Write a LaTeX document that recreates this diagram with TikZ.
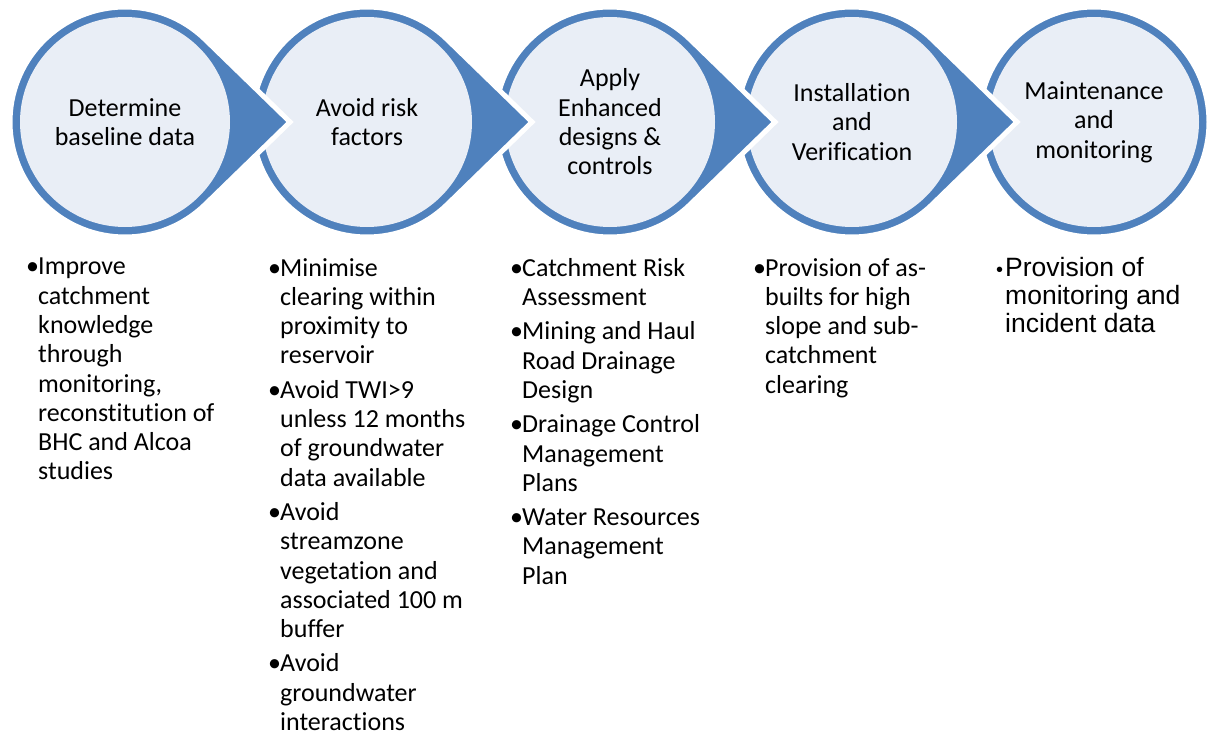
\documentclass[tikz,border=0pt]{standalone}
\usepackage{fontspec}
\usepackage{tikz}
\setmainfont{Carlito}[Ligatures=CommonOff]
\newfontfamily\arialfont{Liberation Sans}
\definecolor{ringBlue}{RGB}{79,129,189}
\definecolor{discFill}{RGB}{233,238,246}
\newcommand{\itemdot}{\llap{\makebox[12pt][l]{•}}}
\newcommand{\smalldot}{\llap{\makebox[9pt][l]{\fontsize{20}{20}\selectfont •}}}

\begin{document}
\begin{tikzpicture}[x=1pt, y=1pt,
  stepdisc/.style={fill=ringBlue, draw=white, line width=5pt, line join=miter},
  steplabel/.style={align=center, inner sep=0pt, font=\fontsize{26}{29.3}\selectfont},
  bulletlist/.style={anchor=north west, align=left, inner sep=0pt, font=\fontsize{26}{29.3}\selectfont}]
  \useasboundingbox (0,0) rectangle (1208,-734);
  \coordinate (c1) at (125,-122);
  \coordinate (c2) at (367,-122);
  \coordinate (c3) at (610,-122);
  \coordinate (c4) at (852,-122);
  \coordinate (c5) at (1094,-122);
  % last step has no arrow
  \filldraw[stepdisc] (c5) circle (115);
  \fill[discFill] (c5) circle (105);
  % arrowed steps, drawn right to left so each tip lies on top
  \filldraw[stepdisc] ([xshift=165pt]c4) -- ([shift={(45.8:115)}]c4) arc[start angle=45.8, end angle=314.2, radius=115] -- cycle;
  \fill[discFill] (c4) circle (105);
  \filldraw[stepdisc] ([xshift=165pt]c3) -- ([shift={(45.8:115)}]c3) arc[start angle=45.8, end angle=314.2, radius=115] -- cycle;
  \fill[discFill] (c3) circle (105);
  \filldraw[stepdisc] ([xshift=165pt]c2) -- ([shift={(45.8:115)}]c2) arc[start angle=45.8, end angle=314.2, radius=115] -- cycle;
  \fill[discFill] (c2) circle (105);
  \filldraw[stepdisc] ([xshift=165pt]c1) -- ([shift={(45.8:115)}]c1) arc[start angle=45.8, end angle=314.2, radius=115] -- cycle;
  \fill[discFill] (c1) circle (105);
  % step titles
  \node[steplabel] (baseline) at (c1) {Determine\\baseline data};
  \node[steplabel] (risk) at (c2) {Avoid risk\\factors};
  \node[steplabel] (design) at (c3) {Apply\\Enhanced\\designs \&\\controls};
  \node[steplabel] (install) at (c4) {Installation\\and\\Verification};
  \node[steplabel] (maint) at (c5) {Maintenance\\and\\monitoring};
  % bullet lists under each step
  \node[bulletlist] (baselineList) at (38,-258) {\itemdot Improve\\catchment\\knowledge\\through\\monitoring,\\reconstitution of\\BHC and Alcoa\\studies};
  \node[bulletlist] (riskList) at (280,-258) {\itemdot Minimise\\clearing within\\proximity to\\reservoir\\[5pt]
    \itemdot Avoid TWI>9\\unless 12 months\\of groundwater\\data available\\[5pt]
    \itemdot Avoid\\streamzone\\vegetation and\\associated 100 m\\buffer\\[5pt]
    \itemdot Avoid\\groundwater\\interactions};
  \node[bulletlist] (designList) at (522,-258) {\itemdot Catchment Risk\\Assessment\\[5pt]
    \itemdot Mining and Haul\\Road Drainage\\Design\\[5pt]
    \itemdot Drainage Control\\Management\\Plans\\[5pt]
    \itemdot Water Resources\\Management\\Plan};
  \node[bulletlist] (installList) at (765,-258) {\itemdot Provision of as-\\builts for high\\slope and sub-\\catchment\\clearing};
  \node[bulletlist, font=\arialfont\fontsize{26.5}{27.8}\selectfont] (maintList) at (1005,-257) {\smalldot Provision of\\monitoring and\\incident data};
\end{tikzpicture}
\end{document}
